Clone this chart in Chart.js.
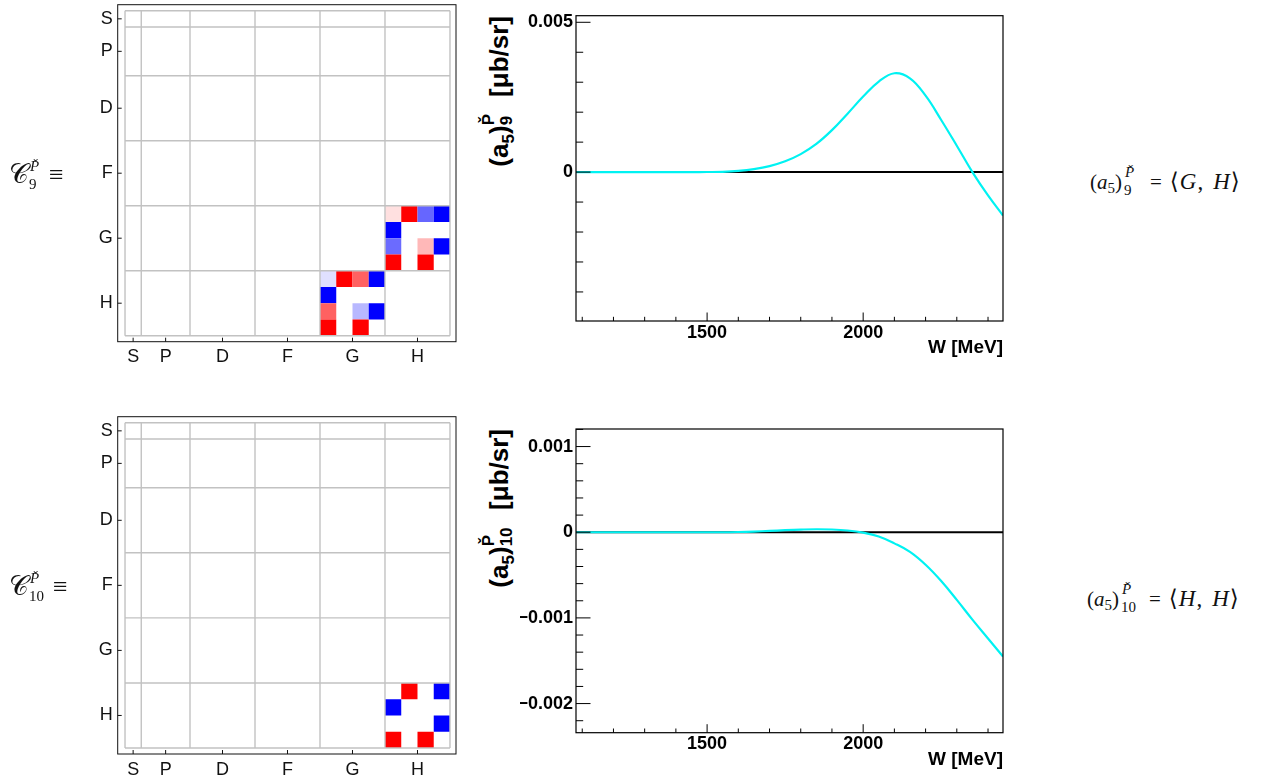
<!DOCTYPE html>
<html>
<head>
<meta charset="utf-8">
<script src="https://cdn.jsdelivr.net/npm/chart.js@4.4.0/dist/chart.umd.min.js"></script>
<style>
  html, body { margin: 0; padding: 0; background: #fff; }
  body { width: 1264px; height: 783px; position: relative; overflow: hidden; font-family: "Liberation Sans", Arial, sans-serif; }
  canvas { position: absolute; }
  .tex { position: absolute; font-family: "Liberation Serif", "DejaVu Serif", serif; font-size: 21px; line-height: 1; color: #111; white-space: nowrap; }
  .tex .cal { font-size: 27px; }
  .tex .eq { display: inline-block; margin: 0 8px 0 8px; }
  .tex .br { font-size: 23px; }
  .tex .br i { display: inline-block; margin: 0 1px; }
  .tex .sp { display: inline-block; width: 9px; }
  .tex .s5 { font-size: 15px; vertical-align: -4px; }
  .ss { display: inline-block; position: relative; height: 1em; vertical-align: baseline; }
  .ss span { position: absolute; left: 0; line-height: 1; font-size: 15px; }
  .ytitle { position: absolute; width: 300px; height: 30px; line-height: 30px; text-align: right; white-space: nowrap;
            transform: rotate(-90deg); transform-origin: 0 0; font: bold 26px "Liberation Sans", Arial, sans-serif; color: #000; }
  .ytitle .sub { font-size: 17px; vertical-align: -6px; }
  .ytitle .ss span { font-size: 17px; }
</style>
</head>
<body>
<canvas id="m9" width="410" height="380" style="left:60px;top:0px;width:410px;height:380px"></canvas>
<canvas id="p9" width="510" height="370" style="left:520px;top:0px;width:510px;height:370px"></canvas>
<canvas id="m10" width="410" height="373" style="left:60px;top:410px;width:410px;height:373px"></canvas>
<canvas id="p10" width="510" height="383" style="left:520px;top:400px;width:510px;height:383px"></canvas>

<div class="tex" style="left:9px;top:161px"><span class="cal">𝒞</span><span class="ss" style="width:14px"><span style="top:-3px;left:1px"><i>P&#x30C;</i></span><span style="top:15px">9</span></span><span class="eq" style="font-size:26px;margin-left:6px">≡</span></div>
<div class="tex" style="left:9px;top:573px"><span class="cal">𝒞</span><span class="ss" style="width:18px"><span style="top:-3px;left:1px"><i>P&#x30C;</i></span><span style="top:15px">10</span></span><span class="eq" style="font-size:26px;margin-left:6px">≡</span></div>
<div class="tex" style="left:1090px;top:168px">(<i>a</i><span class="s5">5</span>)<span class="ss" style="width:20px"><span style="top:-3px;left:3px"><i>P&#x30C;</i></span><span style="top:15px;left:2px">9</span></span><span class="eq">=</span><span class="br">⟨<i>G</i>,<span class="sp"></span><i>H</i>⟩</span></div>
<div class="tex" style="left:1087px;top:585px">(<i>a</i><span class="s5">5</span>)<span class="ss" style="width:22px"><span style="top:-3px;left:3px"><i>P&#x30C;</i></span><span style="top:15px;left:2px">10</span></span><span class="eq">=</span><span class="br">⟨<i>H</i>,<span class="sp"></span><i>H</i>⟩</span></div>

<div class="ytitle" style="left:482px;top:316px">(a<span class="sub">5</span>)<span class="ss" style="width:14px"><span style="top:-2px">P&#x30C;</span><span style="top:16px">9</span></span>&nbsp;&nbsp;[μb/sr]</div>
<div class="ytitle" style="left:482px;top:729px">(a<span class="sub">5</span>)<span class="ss" style="width:22px"><span style="top:-2px">P&#x30C;</span><span style="top:16px">10</span></span>&nbsp;&nbsp;[μb/sr]</div>

<script>
// partial waves and how many matrix cells each one takes
const WAVES = ["S", "P", "D", "F", "G", "H"];
const WAVE_CELLS = [1, 3, 4, 4, 4, 4];

// matrix cells: [row, column, value]  (+1 red, -1 blue)
const C9_CELLS = [
  [12, 16, 0.12], [12, 17, 1], [12, 18, -0.6], [12, 19, -1],
  [13, 16, -1],
  [14, 16, -0.58], [14, 18, 0.28], [14, 19, -1],
  [15, 16, 1], [15, 18, 1],
  [16, 12, -0.12], [16, 13, 1], [16, 14, 0.62], [16, 15, -1],
  [17, 12, -1],
  [18, 12, 0.62], [18, 14, -0.28], [18, 15, -1],
  [19, 12, 1], [19, 14, 1]
];
const C10_CELLS = [
  [16, 17, 1], [16, 19, -1],
  [17, 16, -1],
  [18, 19, -1],
  [19, 16, 1], [19, 18, 1]
];

// energy W [MeV] and the two curves [ub/sr]
const W = [1080, 1100, 1150, 1200, 1250, 1300, 1350, 1400, 1450, 1500, 1550, 1600, 1650, 1700, 1750,
           1800, 1850, 1900, 1950, 2000, 2050, 2100, 2150, 2200, 2250, 2300, 2350, 2400, 2448];
const A5_9 = [0, 0, 0, 0, 0, 0, 0, 0, 0, 0.000003, 0.00001, 0.00004, 0.0001, 0.0002, 0.00036,
              0.0006, 0.00094, 0.0014, 0.00195, 0.00252, 0.00302, 0.0033, 0.00313, 0.00255, 0.00174,
              0.00088, 0, -0.00078, -0.00145];
const A5_10 = [0, 0, 0, 0, 0, 0, 0, 0, 0, 0, 0, 0.000003, 0.000008, 0.000015, 0.000024,
               0.000031, 0.000035, 0.000032, 0.00002, -0.000005, -0.00005, -0.00013, -0.00023, -0.00038, -0.00057,
               -0.00079, -0.00102, -0.00124, -0.00145];

const W_TICKS = [1100, 1200, 1300, 1400, 1500, 1600, 1700, 1800, 1900, 2000, 2100, 2200, 2300, 2400];
const W_LABELS = [1500, 2000];
const Y9_TICKS = [-0.004, -0.003, -0.002, -0.001, 0, 0.001, 0.002, 0.003, 0.004, 0.005];
const Y9_LABELS = [0, 0.005];
const Y10_TICKS = [-0.0022, -0.002, -0.0018, -0.0016, -0.0014, -0.0012, -0.001, -0.0008, -0.0006, -0.0004,
                   -0.0002, 0, 0.0002, 0.0004, 0.0006, 0.0008, 0.001, 0.0012];
const Y10_LABELS = [-0.002, -0.001, 0, 0.001];

Chart.defaults.font.family = '"Liberation Sans", Arial, sans-serif';
Chart.defaults.color = "#000";

const has = (list, v) => list.some(l => Math.abs(l - v) < 1e-9);

function cellColor(v) {
  if (v >= 0) {
    const c = Math.round(255 * (1 - v));
    return `rgb(255,${c},${c})`;
  }
  const c = Math.round(255 * (1 + v));
  return `rgb(${c},${c},255)`;
}

// fixed axis size, and no extra room for labels sticking out at the ends
function fixSize(prop, size) {
  return s => {
    s[prop] = size;
    s.paddingTop = s.paddingBottom = s.paddingLeft = s.paddingRight = 0;
  };
}

// block edges and block centres of the wave matrix
const EDGES = [0];
WAVE_CELLS.forEach(n => EDGES.push(EDGES[EDGES.length - 1] + n));
const CENTERS = WAVES.map((w, i) => (EDGES[i] + EDGES[i + 1]) / 2);
const N = EDGES[EDGES.length - 1];

const matrixFrame = {
  id: "matrixFrame",
  afterDatasetsDraw(chart) {
    const { ctx, chartArea: a, scales: { x, y } } = chart;
    const line = (x1, y1, x2, y2) => { ctx.beginPath(); ctx.moveTo(x1, y1); ctx.lineTo(x2, y2); ctx.stroke(); };
    ctx.save();
    ctx.strokeStyle = "#c2c2c2";
    ctx.lineWidth = 1.4;
    EDGES.forEach(e => {
      line(x.getPixelForValue(e), y.getPixelForValue(0), x.getPixelForValue(e), y.getPixelForValue(N));
      line(x.getPixelForValue(0), y.getPixelForValue(e), x.getPixelForValue(N), y.getPixelForValue(e));
    });
    ctx.strokeStyle = "#111";
    ctx.lineWidth = 1;
    ctx.strokeRect(a.left, a.top, a.right - a.left, a.bottom - a.top);
    x.ticks.forEach(t => { const p = x.getPixelForValue(t.value); line(p, a.bottom, p, a.bottom - 4); });
    y.ticks.forEach(t => { const p = y.getPixelForValue(t.value); line(a.left, p, a.left + 4, p); });
    ctx.restore();
  }
};

function matrixChart(id, cells, padTop, xHeight) {
  const side = chart => Math.abs(chart.scales.x.getPixelForValue(1) - chart.scales.x.getPixelForValue(0));
  const labelAxis = {
    type: "linear",
    afterBuildTicks: s => { s.ticks = CENTERS.map(v => ({ value: v })); },
    ticks: { callback: (v, i) => WAVES[i], font: { size: 18 }, color: "#111", padding: 5, autoSkip: false, maxRotation: 0 },
    grid: { display: false, drawTicks: false },
    border: { display: false }
  };
  new Chart(document.getElementById(id), {
    type: "scatter",
    data: {
      datasets: [{
        data: cells.map(c => ({ x: c[1] + 0.5, y: c[0] + 0.5, v: c[2] })),
        pointStyle: "rect",
        backgroundColor: ctx => ctx.raw ? cellColor(ctx.raw.v) : "#fff",
        borderWidth: 0,
        pointRadius: ctx => side(ctx.chart) / 2 / Math.SQRT1_2,
        pointHoverRadius: ctx => side(ctx.chart) / 2 / Math.SQRT1_2
      }]
    },
    options: {
      responsive: false,
      animation: false,
      events: [],
      layout: { padding: { left: 0, right: 14, top: padTop, bottom: 0 } },
      plugins: { legend: { display: false }, tooltip: { enabled: false } },
      scales: {
        x: { ...labelAxis, min: -0.45, max: 20.37, afterFit: fixSize("height", xHeight) },
        y: { ...labelAxis, reverse: true, min: -0.37, max: 20.37, afterFit: fixSize("width", 57.7) }
      }
    },
    plugins: [matrixFrame]
  });
}

const rootFrame = {
  id: "rootFrame",
  afterDraw(chart) {
    const { ctx, chartArea: a, scales: { x, y } } = chart;
    const yMajor = chart.options.plugins.rootFrame.yMajor;
    const line = (x1, y1, x2, y2) => { ctx.beginPath(); ctx.moveTo(x1, y1); ctx.lineTo(x2, y2); ctx.stroke(); };
    ctx.save();
    ctx.strokeStyle = "#000";
    ctx.lineWidth = 1.2;
    ctx.strokeRect(a.left, a.top, a.right - a.left, a.bottom - a.top);
    ctx.lineWidth = 1;
    x.ticks.forEach(t => {
      const p = x.getPixelForValue(t.value);
      line(p, a.bottom, p, a.bottom - (t.value % 500 === 0 ? 8.5 : 4.2));
    });
    y.ticks.forEach(t => {
      const p = y.getPixelForValue(t.value);
      line(a.left, p, a.left + (has(yMajor, t.value) ? 14.5 : 7.2), p);
    });
    ctx.restore();
  }
};

function fmt(v) {
  if (Math.abs(v) < 1e-12) return "0";
  return (v < 0 ? "\u2212" : "") + String(Math.abs(v));
}

function curveChart(id, values, yTicks, yLabels, yMin, yMax, padTop, xHeight, titlePad) {
  new Chart(document.getElementById(id), {
    type: "scatter",
    data: {
      datasets: [
        {
          data: W.map((w, i) => ({ x: w, y: values[i] })),
          showLine: true, borderColor: "#00f2f2", borderWidth: 2.2, pointRadius: 0,
          tension: 0.4
        },
        {
          data: [{ x: W[0], y: 0 }, { x: W[W.length - 1], y: 0 }],
          showLine: true, borderColor: "#000", borderWidth: 2, pointRadius: 0
        }
      ]
    },
    options: {
      responsive: false,
      animation: false,
      events: [],
      layout: { padding: { left: 0, right: 27, top: padTop, bottom: 0 } },
      plugins: { legend: { display: false }, tooltip: { enabled: false }, rootFrame: { yMajor: yLabels } },
      scales: {
        x: {
          type: "linear", min: W[0], max: W[W.length - 1],
          afterBuildTicks: s => { s.ticks = W_TICKS.map(v => ({ value: v })); },
          afterFit: fixSize("height", xHeight),
          ticks: { callback: v => has(W_LABELS, v) ? String(v) : "", font: { size: 18, weight: "bold" }, padding: 1, autoSkip: false, maxRotation: 0 },
          grid: { display: false, drawTicks: false },
          border: { display: false },
          title: { display: true, text: "W [MeV]", align: "end", font: { size: 19, weight: "bold" }, padding: { top: 0, bottom: titlePad } }
        },
        y: {
          type: "linear", min: yMin, max: yMax,
          afterBuildTicks: s => { s.ticks = yTicks.map(v => ({ value: v })); },
          afterFit: fixSize("width", 56),
          ticks: { callback: v => has(yLabels, v) ? fmt(v) : "", font: { size: 18, weight: "bold" }, padding: 3, autoSkip: false },
          grid: { display: false, drawTicks: false },
          border: { display: false }
        }
      }
    },
    plugins: [rootFrame]
  });
}

matrixChart("m9", C9_CELLS, 4.7, 38.3);
matrixChart("m10", C10_CELLS, 6.7, 29);
curveChart("p9", A5_9, Y9_TICKS, Y9_LABELS, -0.00497, 0.00522, 15.7, 49, 10.6);
curveChart("p10", A5_10, Y10_TICKS, Y10_LABELS, -0.00234, 0.001205, 29, 50.3, 11.6);
</script>
</body>
</html>
